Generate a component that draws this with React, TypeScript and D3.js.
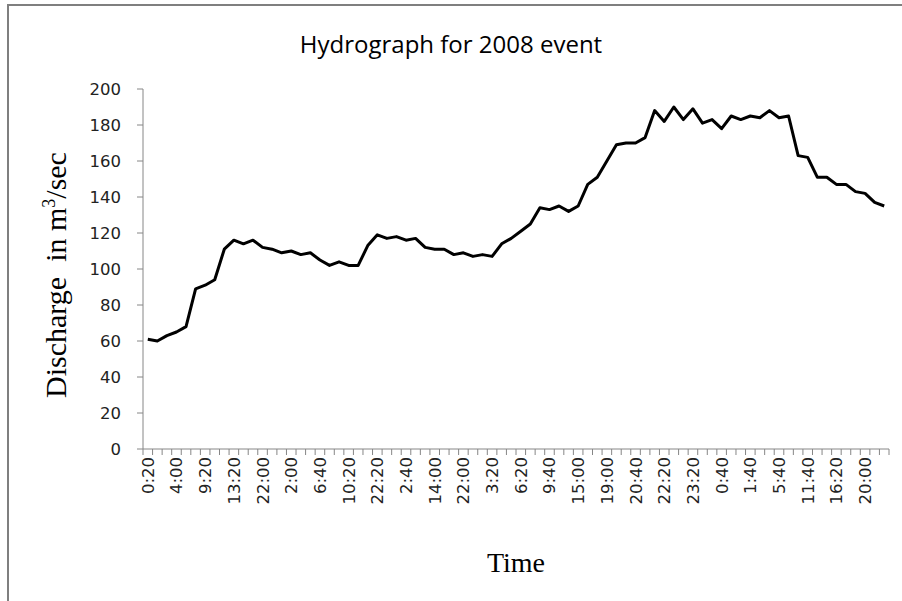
import React from "react";
import * as d3 from "d3";

const title = "Hydrograph for 2008 event";
const yTicks = [0, 20, 40, 60, 80, 100, 120, 140, 160, 180, 200];
const tickLabels = [
  "0:20", "4:00", "9:20", "13:20", "22:00", "2:00", "6:40", "10:20", "22:20",
  "2:40", "14:00", "22:00", "3:20", "6:20", "9:40", "15:00", "19:00", "20:40",
  "22:20", "23:20", "0:40", "1:40", "5:40", "11:40", "16:20", "20:00",
];
const discharge = [
  61, 60, 63, 65, 68, 89, 91, 94, 111, 116,
  114, 116, 112, 111, 109, 110, 108, 109, 105, 102,
  104, 102, 102, 113, 119, 117, 118, 116, 117, 112,
  111, 111, 108, 109, 107, 108, 107, 114, 117, 121,
  125, 134, 133, 135, 132, 135, 147, 151, 160, 169,
  170, 170, 173, 188, 182, 190, 183, 189, 181, 183,
  178, 185, 183, 185, 184, 188, 184, 185, 163, 162,
  151, 151, 147, 147, 143, 142, 137, 135,
];
const labelEvery = 3;

export default function App() {
  const W = 902, H = 601;
  const left = 143, right = 889, top = 89, bottom = 449;
  const idx = discharge.map((_, i) => i);
  const x = d3.scaleBand<number>().domain(idx).range([left, right]).padding(0);
  const bw = x.bandwidth();
  const cx = (i: number) => (x(i) as number) + bw / 2;
  const y = d3.scaleLinear().domain([0, 200]).range([bottom, top]);
  const line = d3.line<number>().x((_, i) => cx(i)).y((d) => y(d));
  const axisColor = "#868686";
  const tickFont = "'DejaVu Sans', sans-serif";
  const serif = "'Liberation Serif', 'Times New Roman', serif";

  const boundaries = d3.range(discharge.length + 1).map((k) => left + k * bw);

  return (
    <svg width={W} height={H} style={{ position: "absolute", left: 0, top: 0, background: "#fff" }}>
      <rect x={8} y={5} width={W + 10} height={H + 10} fill="#fff" stroke="#7f7f7f" strokeWidth={2} />
      <text x={451} y={53} textAnchor="middle" fontFamily="'Open Sans', sans-serif" fontSize={24} fill="#000">
        {title}
      </text>
      {/* y axis */}
      <line x1={left} x2={left} y1={top} y2={bottom} stroke={axisColor} strokeWidth={1} />
      {yTicks.map((t) => (
        <g key={t}>
          <line x1={left - 6} x2={left} y1={y(t)} y2={y(t)} stroke={axisColor} />
          <text x={121} y={y(t)} dy="0.36em" textAnchor="end" fontFamily={tickFont} fontSize={16.5} fill="#222">
            {t}
          </text>
        </g>
      ))}
      {/* x axis */}
      <line x1={left} x2={right} y1={bottom} y2={bottom} stroke={axisColor} strokeWidth={1} />
      {boundaries.map((bx, k) => (
        <line key={k} x1={bx} x2={bx} y1={bottom} y2={bottom + 6} stroke={axisColor} />
      ))}
      {tickLabels.map((lab, j) => {
        const i = j * labelEvery;
        const px = cx(i);
        return (
          <text
            key={j}
            transform={`translate(${px},${bottom + 8}) rotate(-90)`}
            textAnchor="end"
            dy="0.36em"
            fontFamily={tickFont}
            fontSize={16.5}
            fill="#222"
          >
            {lab}
          </text>
        );
      })}
      {/* series */}
      <path d={line(discharge) || ""} fill="none" stroke="#000" strokeWidth={3} strokeLinejoin="round" />
      {/* axis titles */}
      <text
        transform={`translate(66,275) rotate(-90)`}
        textAnchor="middle"
        fontFamily={serif}
        fontSize={30}
        fill="#000"
        style={{ whiteSpace: "pre" }}
      >
        {"Discharge  in m"}<tspan dy={-11} fontSize={18}>3</tspan>
        <tspan dy={11}>/sec</tspan>
      </text>
      <text x={516} y={572} textAnchor="middle" fontFamily={serif} fontSize={28} fill="#000">
        Time
      </text>
    </svg>
  );
}
